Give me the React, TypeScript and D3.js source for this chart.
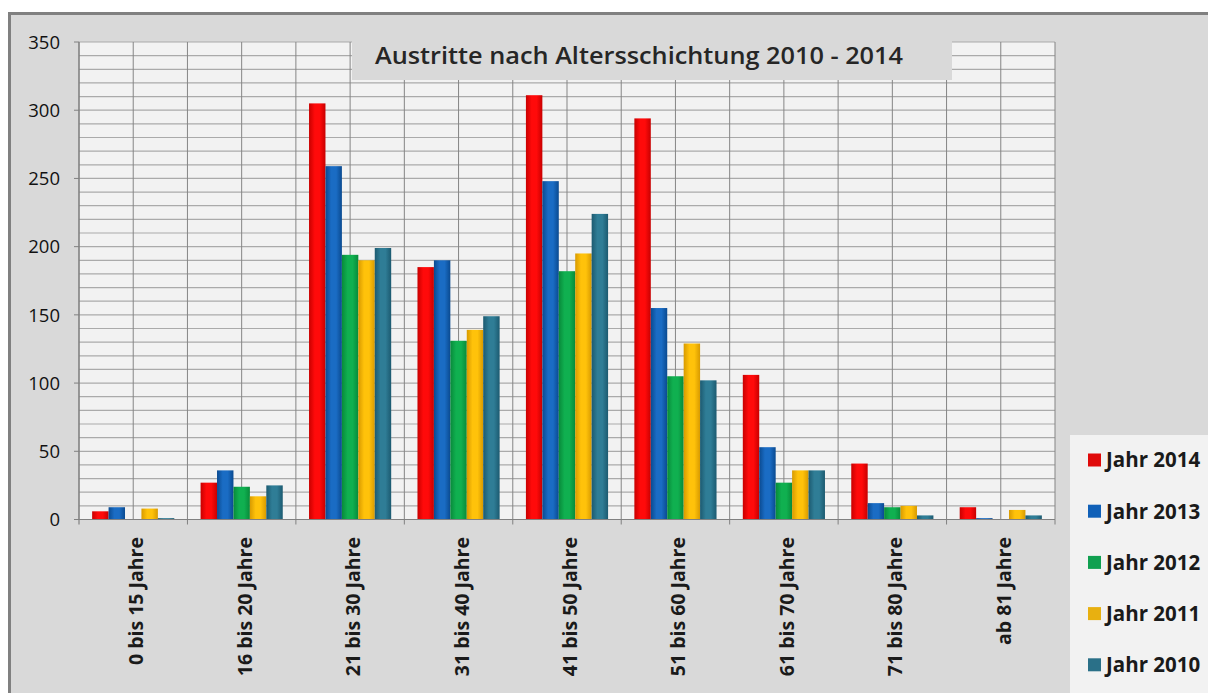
import React from "react";
import * as d3 from "d3";

const categories = [
  "0 bis 15 Jahre",
  "16 bis 20 Jahre",
  "21 bis 30 Jahre",
  "31 bis 40 Jahre",
  "41 bis 50 Jahre",
  "51 bis 60 Jahre",
  "61 bis 70 Jahre",
  "71 bis 80 Jahre",
  "ab 81 Jahre",
];

const seriesNames = ["Jahr 2014", "Jahr 2013", "Jahr 2012", "Jahr 2011", "Jahr 2010"];

const jahr2014 = [6, 27, 305, 185, 311, 294, 106, 41, 9];
const jahr2013 = [9, 36, 259, 190, 248, 155, 53, 12, 1];
const jahr2012 = [0, 24, 194, 131, 182, 105, 27, 9, 0];
const jahr2011 = [8, 17, 190, 139, 195, 129, 36, 10, 7];
const jahr2010 = [1, 25, 199, 149, 224, 102, 36, 3, 3];

const seriesValues = [jahr2014, jahr2013, jahr2012, jahr2011, jahr2010];

const yTicks = [0, 50, 100, 150, 200, 250, 300, 350];

const title = "Austritte nach Altersschichtung 2010 - 2014";

const colors = [
  { mid: "#ff0a0a", edge: "#c80000" },
  { mid: "#1a6cc4", edge: "#0a4a90" },
  { mid: "#10b050", edge: "#088a3a" },
  { mid: "#ffc20a", edge: "#d89a00" },
  { mid: "#2f7d96", edge: "#1c5a70" },
];
const legendColors = ["#e00a0a", "#1060b8", "#10a050", "#e8b010", "#2a7088"];

export default function App() {
  const W = 1208;
  const H = 693;
  const left = 79;
  const right = 1055;
  const top = 42;
  const bottom = 519.5;

  const x0 = d3.scaleBand<string>().domain(categories).range([left, right]).paddingInner(0).paddingOuter(0);
  const x1 = d3
    .scaleBand<string>()
    .domain(seriesNames)
    .range([0, x0.bandwidth()])
    .paddingInner(0)
    .paddingOuter(0.8);
  const y = d3.scaleLinear().domain([0, 350]).range([bottom, top]);

  const minorTicks = d3.range(0, 351, 10);
  const bw = x0.bandwidth();
  const vLines: number[] = [];
  categories.forEach((c) => {
    vLines.push(x0(c)!);
    vLines.push(x0(c)! + bw / 2);
  });
  vLines.push(right);

  const font = "'Open Sans', 'DejaVu Sans', sans-serif";

  return (
    <svg
      width={W}
      height={H}
      style={{ position: "absolute", left: 0, top: 0, background: "#fff" }}
    >
      <defs>
        {colors.map((c, i) => (
          <linearGradient key={i} id={`g${i}`} x1="0" x2="1" y1="0" y2="0">
            <stop offset="0" stopColor={c.edge} />
            <stop offset="0.35" stopColor={c.mid} />
            <stop offset="0.65" stopColor={c.mid} />
            <stop offset="1" stopColor={c.edge} />
          </linearGradient>
        ))}
      </defs>
      {/* outer frame */}
      <rect x={9.5} y={13.5} width={1230} height={700} fill="#d9d9d9" stroke="#808080" strokeWidth={3} />
      {/* plot area */}
      <rect x={left} y={top} width={right - left} height={bottom - top} fill="#f2f2f2" />
      {minorTicks.map((t) => (
        <line key={"h" + t} x1={left} x2={right} y1={y(t)} y2={y(t)} stroke="#aaaaaa" strokeWidth={1.2} />
      ))}
      {vLines.map((vx, i) => (
        <line key={"v" + i} x1={vx} x2={vx} y1={top} y2={bottom} stroke="#858585" strokeWidth={1} />
      ))}
      {/* title box */}
      <rect x={352} y={36} width={600} height={44} fill="#d9d9d9" />
      <text
        x={375}
        y={64}
        fontFamily={font}
        fontWeight={600}
        fontSize={23}
        fill="#262626"
        textLength={528}
        lengthAdjust="spacingAndGlyphs"
      >
        {title}
      </text>
      {/* bars */}
      {categories.map((c, ci) => (
        <g key={c} transform={`translate(${x0(c)},0)`}>
          {seriesNames.map((s, si) => {
            const v = seriesValues[si][ci];
            if (!v) return null;
            return (
              <rect
                key={s}
                x={x1(s)}
                y={y(v)}
                width={x1.bandwidth()}
                height={bottom - y(v)}
                fill={`url(#g${si})`}
              />
            );
          })}
        </g>
      ))}
      {/* axes */}
      <line x1={left} x2={left} y1={top} y2={bottom + 5} stroke="#808080" strokeWidth={1.2} />
      <line x1={left - 5} x2={right} y1={bottom} y2={bottom} stroke="#808080" strokeWidth={1.2} />
      {yTicks.map((t) => (
        <g key={"yt" + t}>
          <line x1={left - 5} x2={left} y1={y(t)} y2={y(t)} stroke="#808080" />
          <text
            x={60}
            y={y(t)}
            dy="0.36em"
            textAnchor="end"
            fontFamily={font}
            fontWeight={500}
            fontSize={18.5}
            fill="#111"
          >
            {t}
          </text>
        </g>
      ))}
      {categories.map((c) => (
        <line
          key={"xt" + c}
          x1={x0(c)! + bw}
          x2={x0(c)! + bw}
          y1={bottom}
          y2={bottom + 5}
          stroke="#808080"
        />
      ))}
      {categories.map((c) => {
        const cx = x0(c)! + bw / 2 + 3;
        return (
          <text
            key={"xl" + c}
            transform={`translate(${cx},${537}) rotate(-90)`}
            textAnchor="end"
            dy="0.36em"
            fontFamily={font}
            fontWeight={700}
            fontSize={19.5}
            fill="#1a1a1a"
          >
            {c}
          </text>
        );
      })}
      {/* legend */}
      <rect x={1070} y={435} width={160} height={270} fill="#f2f2f2" />
      {seriesNames.map((s, i) => {
        const ly = 460 + i * 51.2;
        return (
          <g key={"lg" + s}>
            <rect x={1088} y={ly - 6.5} width={13} height={13} fill={legendColors[i]} />
            <text
              x={1106}
              y={ly}
              dy="0.36em"
              fontFamily={font}
              fontWeight={700}
              fontSize={20.5}
              fill="#1a1a1a"
            >
              {s}
            </text>
          </g>
        );
      })}
    </svg>
  );
}
